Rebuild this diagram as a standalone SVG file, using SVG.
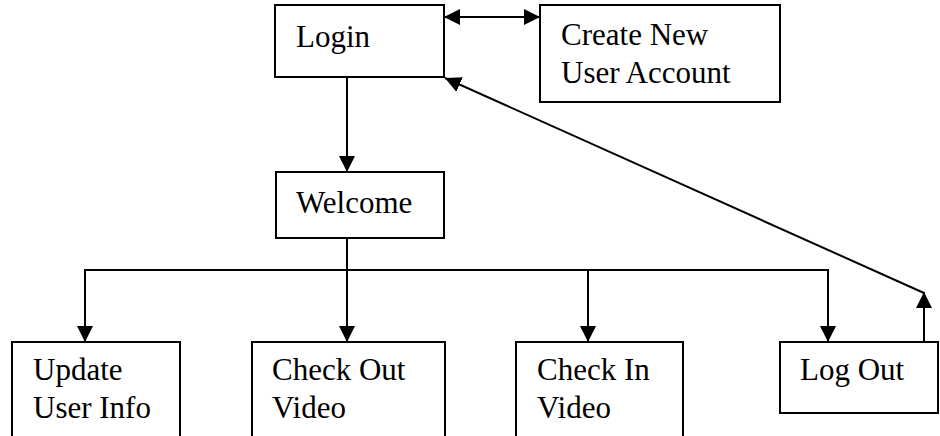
<svg xmlns="http://www.w3.org/2000/svg" width="940" height="436" viewBox="0 0 940 436">
  <style>
    .box { fill: #ffffff; stroke: #000000; stroke-width: 2; }
    .lbl { font-family: "Liberation Serif", "Times New Roman", Times, serif; font-size: 31px; fill: #000000; }
    .conn { fill: none; stroke: #000000; stroke-width: 2; }
  </style>
  <defs>
    <marker id="arrow" viewBox="0 0 16 16" refX="16" refY="8" markerWidth="16" markerHeight="16" markerUnits="userSpaceOnUse" orient="auto-start-reverse">
      <path d="M0,0 L16,8 L0,16 z" fill="#000000"/>
    </marker>
  </defs>
  <rect width="940" height="436" fill="#ffffff"/>

  <g id="connectors">
    <line class="conn" x1="444" y1="17" x2="540" y2="17" marker-start="url(#arrow)" marker-end="url(#arrow)"/>
    <line class="conn" x1="347" y1="77" x2="347" y2="172" marker-end="url(#arrow)"/>
    <line class="conn" x1="347" y1="238" x2="347" y2="270"/>
    <polyline class="conn" points="85,271 85,270 828,270"/>
    <line class="conn" x1="85" y1="269" x2="85" y2="342" marker-end="url(#arrow)"/>
    <line class="conn" x1="347" y1="270" x2="347" y2="342" marker-end="url(#arrow)"/>
    <line class="conn" x1="588" y1="270" x2="588" y2="342" marker-end="url(#arrow)"/>
    <line class="conn" x1="828" y1="269" x2="828" y2="342" marker-end="url(#arrow)"/>
    <line class="conn" x1="924" y1="342" x2="924" y2="292" marker-end="url(#arrow)"/>
    <line class="conn" x1="924" y1="293" x2="445" y2="78" marker-end="url(#arrow)"/>
  </g>

  <g id="login">
    <rect class="box" x="275" y="5" width="169" height="72"/>
    <text class="lbl" x="296" y="47">Login</text>
  </g>
  <g id="create-account">
    <rect class="box" x="540" y="5" width="240" height="97"/>
    <text class="lbl" x="561" y="45">Create New</text>
    <text class="lbl" x="561" y="83">User Account</text>
  </g>
  <g id="welcome">
    <rect class="box" x="276" y="172" width="168" height="66"/>
    <text class="lbl" x="296" y="213">Welcome</text>
  </g>
  <g id="update-user-info">
    <rect class="box" x="12" y="342" width="168" height="110"/>
    <text class="lbl" x="33" y="380">Update</text>
    <text class="lbl" x="33" y="418">User Info</text>
  </g>
  <g id="check-out-video">
    <rect class="box" x="252" y="342" width="193" height="110"/>
    <text class="lbl" x="272" y="380">Check Out</text>
    <text class="lbl" x="272" y="418">Video</text>
  </g>
  <g id="check-in-video">
    <rect class="box" x="516" y="342" width="167" height="110"/>
    <text class="lbl" x="537" y="380">Check In</text>
    <text class="lbl" x="537" y="418">Video</text>
  </g>
  <g id="log-out">
    <rect class="box" x="780" y="342" width="158" height="71"/>
    <text class="lbl" x="800" y="380">Log Out</text>
  </g>
</svg>
